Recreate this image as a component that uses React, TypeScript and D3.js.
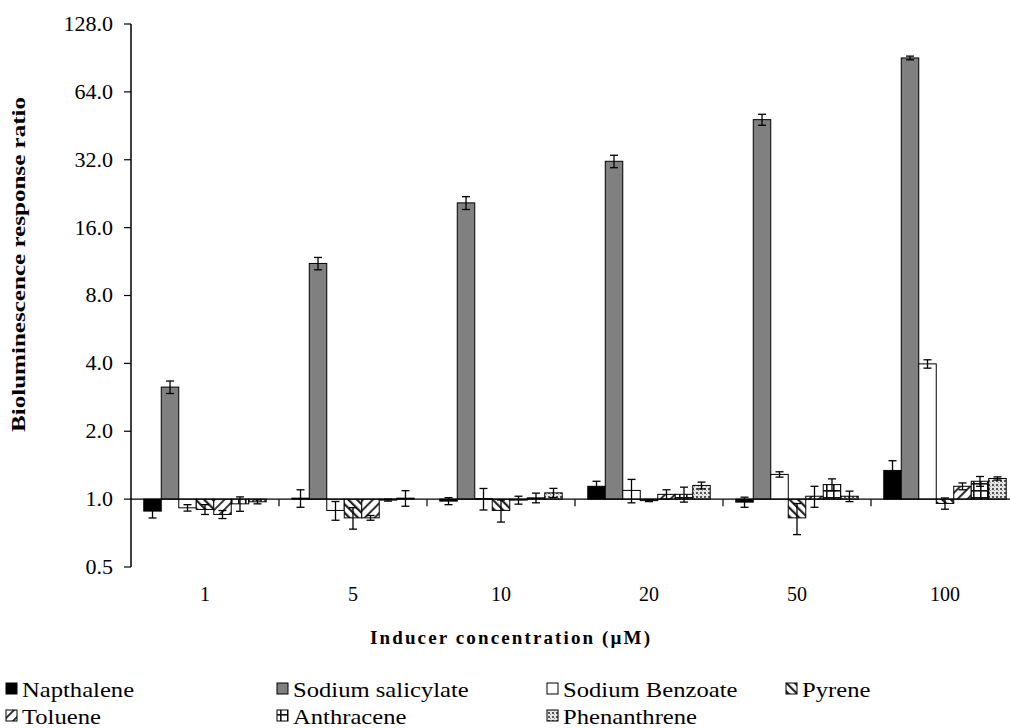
import React from "react";
import * as d3 from "d3";

const categories = ["1", "5", "10", "20", "50", "100"];
const seriesNames = ["Napthalene", "Sodium salicylate", "Sodium Benzoate", "Pyrene", "Toluene", "Anthracene", "Phenanthrene"];

const napthalene = [0.885, 1.01, 0.98, 1.14, 0.97, 1.34];
const napthaleneErr = [0.06, 0.09, 0.035, 0.06, 0.05, 0.14];
const sodiumSalicylate = [3.14, 11.1, 20.6, 31.5, 48.2, 90.5];
const sodiumSalicylateErr = [0.2, 0.7, 1.35, 2.0, 2.7, 1.7];
const sodiumBenzoate = [0.915, 0.891, 1.005, 1.093, 1.287, 3.98];
const sodiumBenzoateErr = [0.03, 0.085, 0.11, 0.13, 0.035, 0.17];
const pyrene = [0.9, 0.826, 0.891, 0.985, 0.826, 0.957];
const pyreneErr = [0.045, 0.09, 0.1, 0.01, 0.13, 0.055];
const toluene = [0.855, 0.826, 0.99, 1.05, 1.03, 1.14];
const tolueneErr = [0.035, 0.02, 0.04, 0.05, 0.11, 0.04];
const anthracene = [0.953, 0.99, 1.013, 1.05, 1.16, 1.2];
const anthraceneErr = [0.07, 0.01, 0.05, 0.08, 0.07, 0.06];
const phenanthrene = [0.973, 1.01, 1.066, 1.15, 1.03, 1.235];
const phenanthreneErr = [0.02, 0.08, 0.05, 0.04, 0.055, 0.02];

const yTicks = [0.5, 1, 2, 4, 8, 16, 32, 64, 128];

const seriesValues = [napthalene, sodiumSalicylate, sodiumBenzoate, pyrene, toluene, anthracene, phenanthrene];
const seriesErrors = [napthaleneErr, sodiumSalicylateErr, sodiumBenzoateErr, pyreneErr, tolueneErr, anthraceneErr, phenanthreneErr];
const fills = ["#000000", "#808080", "#ffffff", "url(#pPyr)", "url(#pTol)", "url(#pAnt)", "url(#pPhe)"];

const serif: React.CSSProperties = { fontFamily: "'Liberation Serif', 'Times New Roman', serif" };

export default function App() {
  const W = 1010, H = 728;
  const x0 = 131;
  const step = 148;
  const x = d3.scaleBand().domain(categories).range([x0, x0 + step * categories.length]).paddingInner(0).paddingOuter(0);
  const xs = d3.scaleBand().domain(seriesNames).range([0, step]).paddingInner(0).paddingOuter(0.73);
  const y = d3.scaleLog().base(2).domain([0.5, 128]).range([567, 24]);
  const base = y(1);

  const legendItems = [
    { col: 0, row: 0 }, { col: 1, row: 0 }, { col: 2, row: 0 }, { col: 3, row: 0 },
    { col: 0, row: 1 }, { col: 1, row: 1 }, { col: 2, row: 1 },
  ];
  const legendColX = [6, 277, 547, 786];
  const legendRowY = [689, 716];

  return (
    <svg width={W} height={H} style={{ position: "absolute", left: 0, top: 0, background: "#fff" }}>
      <defs>
        <pattern id="pPyr" patternUnits="userSpaceOnUse" width="6" height="6" patternTransform="rotate(-45)">
          <rect width="6" height="6" fill="#fff" />
          <rect x="0" y="0" width="2.2" height="6" fill="#222" />
        </pattern>
        <pattern id="pTol" patternUnits="userSpaceOnUse" width="7" height="7" patternTransform="rotate(45)">
          <rect width="7" height="7" fill="#fff" />
          <rect x="0" y="0" width="2" height="7" fill="#333" />
        </pattern>
        <pattern id="pAnt" patternUnits="userSpaceOnUse" width="7" height="7">
          <rect width="7" height="7" fill="#fff" />
          <rect x="0" y="0" width="7" height="1.6" fill="#111" />
          <rect x="0" y="0" width="1.6" height="7" fill="#111" />
        </pattern>
        <pattern id="pPhe" patternUnits="userSpaceOnUse" width="4" height="4">
          <rect width="4" height="4" fill="#e6e6e6" />
          <rect x="0" y="0" width="2" height="2" fill="#555" />
          <rect x="2" y="2" width="1" height="1" fill="#999" />
        </pattern>
      </defs>

      {/* bars */}
      {categories.map((c, ci) => (
        <g key={c}>
          {seriesNames.map((s, si) => {
            const v = seriesValues[si][ci];
            const bx = (x(c) as number) + (xs(s) as number);
            const bw = xs.bandwidth();
            const yv = y(v);
            return (
              <rect key={s} x={bx} y={Math.min(yv, base)} width={bw} height={Math.max(Math.abs(yv - base), 0.8)}
                fill={fills[si]} stroke="#000" strokeWidth={1} />
            );
          })}
        </g>
      ))}

      {/* x axis line at 1.0 */}
      <line x1={x0} x2={W} y1={base} y2={base} stroke="#000" strokeWidth={1.3} />
      {categories.map((c) => (
        <line key={"t" + c} x1={(x(c) as number) + step} x2={(x(c) as number) + step} y1={base} y2={base + 7} stroke="#000" strokeWidth={1.2} />
      ))}

      {/* error bars */}
      {categories.map((c, ci) => (
        <g key={"e" + c}>
          {seriesNames.map((s, si) => {
            const v = seriesValues[si][ci];
            const e = seriesErrors[si][ci];
            const cx = (x(c) as number) + (xs(s) as number) + xs.bandwidth() / 2;
            const yt = y(v + e), yb = y(v - e);
            return (
              <g key={s} stroke="#000" strokeWidth={1.3}>
                <line x1={cx} x2={cx} y1={yt} y2={yb} />
                <line x1={cx - 4} x2={cx + 4} y1={yt} y2={yt} />
                <line x1={cx - 4} x2={cx + 4} y1={yb} y2={yb} />
              </g>
            );
          })}
        </g>
      ))}

      {/* y axis */}
      <line x1={x0} x2={x0} y1={y(128)} y2={y(0.5)} stroke="#000" strokeWidth={1.5} />
      {yTicks.map((t) => (
        <g key={t}>
          <line x1={x0 - 7} x2={x0} y1={y(t)} y2={y(t)} stroke="#000" strokeWidth={1.2} />
          <text x={113} y={y(t)} dy="0.35em" textAnchor="end" fontSize={20} style={serif} transform={`translate(113,0) scale(1.1,1) translate(-113,0)`}>{t.toFixed(1)}</text>
        </g>
      ))}

      {/* category labels */}
      {categories.map((c) => (
        <text key={"l" + c} x={(x(c) as number) + step / 2} y={594} dy="0.35em" textAnchor="middle" fontSize={20} style={serif}>{c}</text>
      ))}

      {/* axis titles */}
      <text x={510} y={637} dy="0.35em" textAnchor="middle" fontSize={19} fontWeight="bold" style={serif} textLength={280} lengthAdjust="spacing">Inducer concentration (µM)</text>
      <text transform={`translate(18,${(97 + 432) / 2}) rotate(-90)`} dy="0.35em" textAnchor="middle" fontSize={19} fontWeight="bold" style={serif} textLength={335} lengthAdjust="spacingAndGlyphs">Bioluminescence response ratio</text>

      {/* legend */}
      {seriesNames.map((s, si) => {
        const it = legendItems[si];
        const lx = legendColX[it.col];
        const ly = legendRowY[it.row];
        const tx = lx + 16;
        return (
          <g key={"lg" + s}>
            <rect x={lx} y={ly - 6} width={11} height={11} fill={fills[si]} stroke="#000" strokeWidth={1} />
            <text x={tx} y={ly} dy="0.35em" fontSize={22} style={serif} transform={`translate(${tx},0) scale(1.12,1) translate(${-tx},0)`}>{s}</text>
          </g>
        );
      })}
    </svg>
  );
}
